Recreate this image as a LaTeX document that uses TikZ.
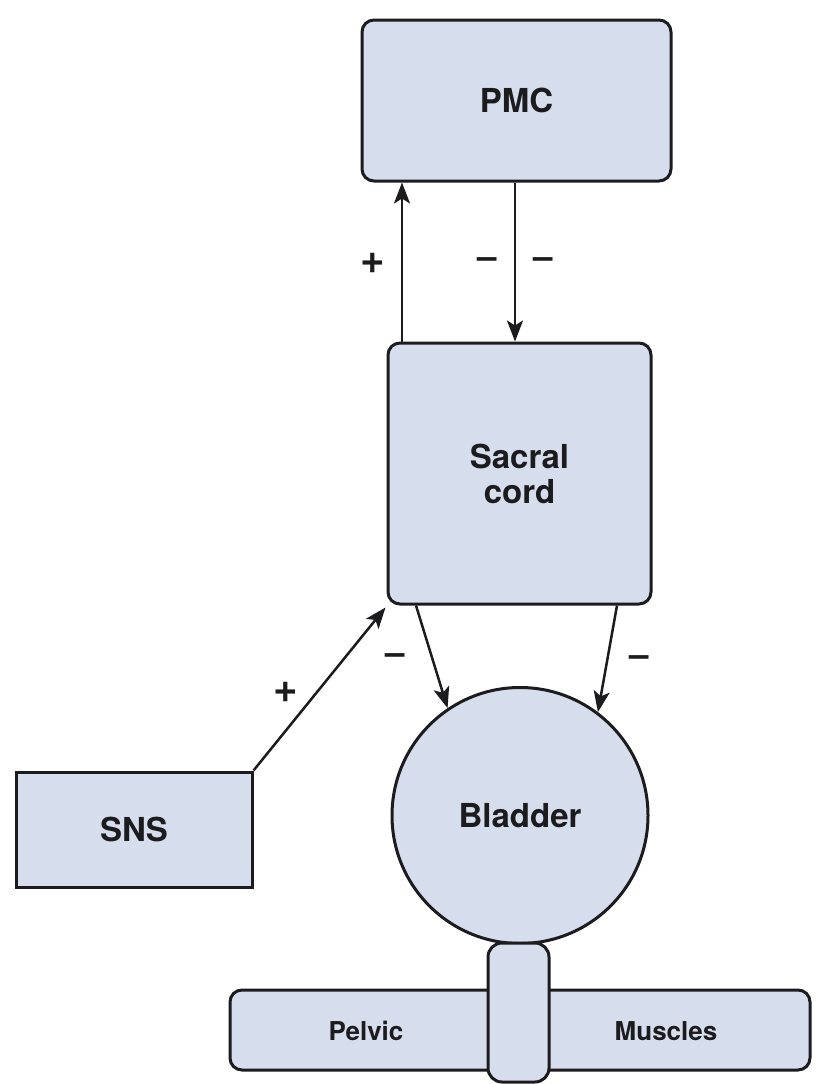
\documentclass[tikz,border=0pt]{standalone}
\usepackage{fontspec}
\setmainfont{TeX Gyre Heros}
\usetikzlibrary{arrows.meta}
\definecolor{boxfill}{RGB}{214,221,236}
\definecolor{ink}{RGB}{28,28,30}
\tikzset{
  x=1pt, y=-1pt,
  box/.style={draw=ink, fill=boxfill, line width=3pt, rounded corners=12pt, inner sep=0pt,
              font=\fontsize{33}{35}\selectfont\bfseries, text=ink, align=center},
  sharpbox/.style={box, sharp corners},
  smalltext/.style={font=\fontsize{26}{28}\selectfont\bfseries, text=ink, inner sep=0pt},
  arr/.style={draw=ink, line width=2.5pt, -{Stealth[length=21pt,width=16pt,inset=5pt]}},
  sign/.style={font=\fontsize{35}{35}\selectfont\bfseries, text=ink, inner sep=0pt},
  plussign/.style={font=\fontsize{42}{42}\selectfont\bfseries, text=ink, inner sep=0pt},
}
\begin{document}
\begin{tikzpicture}
\useasboundingbox (0,0) rectangle (827,1084);
\fill[white] (0,0) rectangle (827,1084);

\node[box, minimum width=309pt, minimum height=161pt] (pmc) at (516.5,100.5) {PMC};
\node[box, minimum width=263pt, minimum height=261pt] (sacral) at (519.5,473.5) {Sacral\\cord};
\node[sharpbox, minimum width=236pt, minimum height=115pt] (sns) at (134,829.5) {SNS};
\node[box, circle, minimum size=256pt] (bladder) at (520,815.5) {Bladder};
\node[box, minimum width=580pt, minimum height=80pt] (bar) at (520,1030) {};
\node[smalltext] (pelvic) at (366,1031) {Pelvic};
\node[smalltext] (muscles) at (666,1031) {Muscles};
\node[box, rounded corners=14pt, minimum width=61pt, minimum height=139pt] (tube) at (518.5,1012.5) {};

\draw[arr] (sacral.north -| 402,0) -- (pmc.south -| 402,0);
\draw[arr] (pmc.south -| 515,0) -- (sacral.north -| 515,0);
\draw[arr] (sns.north east) -- ([shift={(-1,2)}]sacral.south west);
\draw[arr] ([xshift=-103.5pt]sacral.south) -- (bladder.124);
\draw[arr] ([xshift=97.5pt]sacral.south) -- (bladder.53);

\node[plussign] (p1) at (373,263) {+};
\node[sign] (m1) at (487,263) {–};
\node[sign] (m2) at (543,263) {–};
\node[plussign] (p2) at (286,692) {+};
\node[sign] (m3) at (395,659) {–};
\node[sign] (m4) at (639,661) {–};
\end{tikzpicture}
\end{document}
